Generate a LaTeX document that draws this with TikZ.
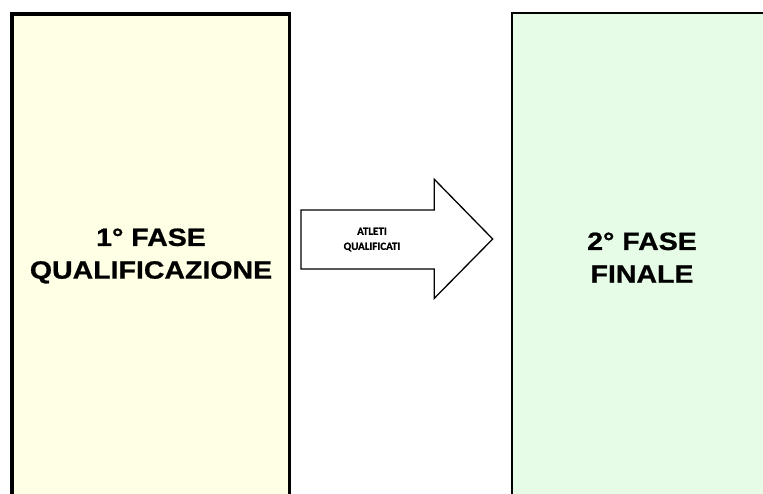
\documentclass[tikz,border=0pt]{standalone}
\usepackage{fontspec}
\setmainfont{Liberation Sans}
\newfontfamily\widebold[FakeStretch=1.14,FakeBold=0.8]{Liberation Sans Bold}
\newfontfamily\calib[FakeBold=0.6]{Carlito Bold}
\definecolor{paleyellow}{RGB}{255,255,229}
\definecolor{palegreen}{RGB}{230,252,230}
\begin{document}
\begin{tikzpicture}[x=1pt,y=-1pt,
  phasetext/.style={align=center,font=\widebold\fontsize{25}{32.7}\selectfont,inner sep=0pt},
  arrowtext/.style={align=center,font=\calib\fontsize{11}{15}\selectfont,inner sep=0pt}]
\useasboundingbox (0,0) rectangle (763,493);
% left box
\fill[paleyellow] (12,14) rectangle (289.5,500);
\draw[line width=3.5pt] (12,500) -- (12,14) -- (289.5,14) -- (289.5,500);
% right box
\fill[palegreen] (512,12.5) rectangle (770,500);
\draw[line width=2pt] (512,500) -- (512,12.5) -- (770,12.5);
% arrow
\draw[line width=1.3pt,fill=white,line join=miter]
  (301,210) -- (434.3,210) -- (434.3,179.3) -- (492.7,239) -- (434.3,298.3) -- (434.3,269) -- (301,269) -- cycle;
\node[phasetext] (fase1) at (151,256) {1° FASE\\QUALIFICAZIONE};
\node[phasetext] (fase2) at (642,257.6) {2° FASE\\FINALE};
\node[arrowtext] (atleti) at (372,239.5) {ATLETI\\QUALIFICATI};
\end{tikzpicture}
\end{document}
